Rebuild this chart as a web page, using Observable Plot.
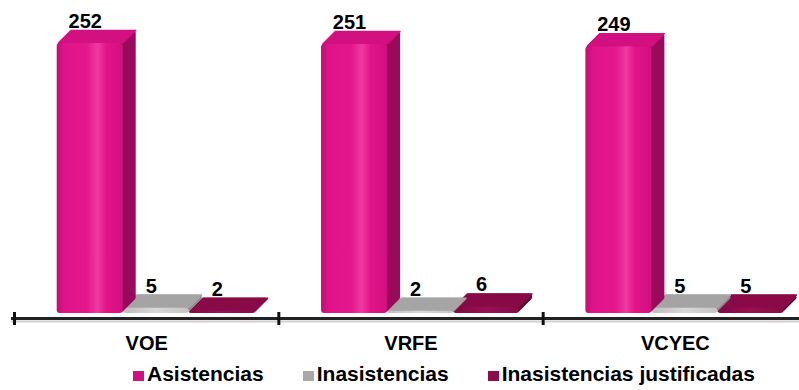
<!DOCTYPE html>
<html>
<head>
<meta charset="utf-8">
<script src="https://cdn.jsdelivr.net/npm/d3@7"></script>
<script src="https://cdn.jsdelivr.net/npm/@observablehq/plot@0.6"></script>
<style>
  html, body { margin: 0; padding: 0; background: #fff; }
  #chart { width: 799px; height: 362px; }
  .legend { display: flex; align-items: center; height: 24px; padding-left: 133px;
    font-family: "Liberation Sans", Arial, sans-serif; font-weight: bold; font-size: 21px; color: #000; }
  .legend .item { display: flex; align-items: center; margin-right: 39px; }
  .legend .sw { width: 11px; height: 10px; margin-right: 3px; margin-top: 4px; }
</style>
</head>
<body>
<div id="chart"></div>
<div class="legend" id="legend"></div>
<script>
// ---- data ----
const groups = ["VOE", "VRFE", "VCYEC"];
const seriesNames = ["Asistencias", "Inasistencias", "Inasistencias justificadas"];
const asistencias = [252, 251, 249];
const inasistencias = [5, 2, 5];
const justificadas = [2, 6, 5];
const boundaries = [0, 1, 2, 3];

// ---- styles ----
const palette = {
  "Asistencias": {front: "url(#gMag)", top: "#d3107f", side: "#9a0a5c", sw: "#d0107e"},
  "Inasistencias": {front: "url(#gGray)", top: "#a5a5a5", side: "#8a8a8a", sw: "#a8a8a8"},
  "Inasistencias justificadas": {front: "url(#gMar)", top: "#8a0b49", side: "#640634", sw: "#8c0b4a"}
};
const depth = 13;          // 3D extrusion in px
const barOffset = 0.1616;  // first bar start within group (group units)
const barWidth = 0.2497;   // bar width (group units)

const valuesBySeries = [asistencias, inasistencias, justificadas];
const rows = [];
groups.forEach((g, gi) => seriesNames.forEach((s, si) => {
  rows.push({group: g, gi, series: s, si, value: valuesBySeries[si][gi]});
}));
const x1 = d => d.gi + barOffset + d.si * barWidth;
const x2 = d => x1(d) + barWidth;

const marks = [];
// draw right-most series first so that left bars occlude the right ones
for (let si = seriesNames.length - 1; si >= 0; si--) {
  const s = seriesNames[si];
  const data = rows.filter(d => d.series === s);
  const c = palette[s];
  for (let k = depth; k >= 1; k--) {
    marks.push(Plot.rect(data, {x1, x2, y1: () => 0, y2: "value", dx: k, dy: -k, fill: c.side, rx: 3}));
  }
  for (let k = depth; k >= 1; k--) {
    marks.push(Plot.ruleY(data, {x1: d => x1(d), x2: d => x2(d), y: "value", dx: k + 0.5, dy: -k, stroke: c.top, strokeWidth: 1.6}));
  }
  marks.push(Plot.rect(data, {x1, x2, y1: () => 0, y2: "value", fill: c.front, rx: 3}));
}
// baseline axis
marks.push(Plot.ruleY([0], {dy: 8, stroke: "#cfcfcf", strokeWidth: 2}));
marks.push(Plot.ruleY([0], {dy: 5, stroke: "#222", strokeWidth: 3}));
marks.push(Plot.axisX({ticks: boundaries.slice(0, 3), tickSize: 13, tickFormat: () => "", stroke: "#111", strokeWidth: 3, dy: -1}));
// group labels
marks.push(Plot.text(groups, {x: (d, i) => i + 0.5, y: () => 0, text: d => d, dy: 30,
  fontSize: 20, fontWeight: "bold", fill: "#000"}));
// value labels
marks.push(Plot.text(rows, {x: d => (x1(d) + x2(d)) / 2, y: "value", text: d => String(d.value), dy: -22, dx: -5,
  fontSize: 20, fontWeight: "bold", fill: "#000"}));

const svg = Plot.plot({
  width: 799,
  height: 362,
  marginTop: 43,
  marginBottom: 49,
  marginLeft: 11,
  marginRight: 0,
  style: {fontFamily: "'Liberation Sans', Arial, sans-serif", background: "#fff", overflow: "visible"},
  x: {domain: [0, 3], range: [14, 807], axis: null},
  y: {domain: [0, 252], axis: null},
  marks
});

const defs = d3.select(svg).insert("defs", ":first-child");
function grad(id, stops) {
  const g = defs.append("linearGradient").attr("id", id).attr("x1", 0).attr("x2", 1).attr("y1", 0).attr("y2", 0);
  stops.forEach(([o, c]) => g.append("stop").attr("offset", o).attr("stop-color", c));
}
grad("gMag", [[0, "#c20c76"], [0.12, "#e0148a"], [0.45, "#e4168c"], [0.62, "#ee3aa2"], [0.75, "#e21488"], [1, "#d2107f"]]);
grad("gGray", [[0, "#bdbdbd"], [0.5, "#d8d8d8"], [1, "#c4c4c4"]]);
grad("gMar", [[0, "#7e0a42"], [0.5, "#98104f"], [1, "#860b46"]]);

document.getElementById("chart").appendChild(svg);

const legend = document.getElementById("legend");
seriesNames.forEach(s => {
  const item = document.createElement("div");
  item.className = "item";
  const sw = document.createElement("span");
  sw.className = "sw";
  sw.style.background = palette[s].sw;
  item.appendChild(sw);
  const t = document.createElement("span");
  t.textContent = s;
  item.appendChild(t);
  legend.appendChild(item);
});
</script>
</body>
</html>
